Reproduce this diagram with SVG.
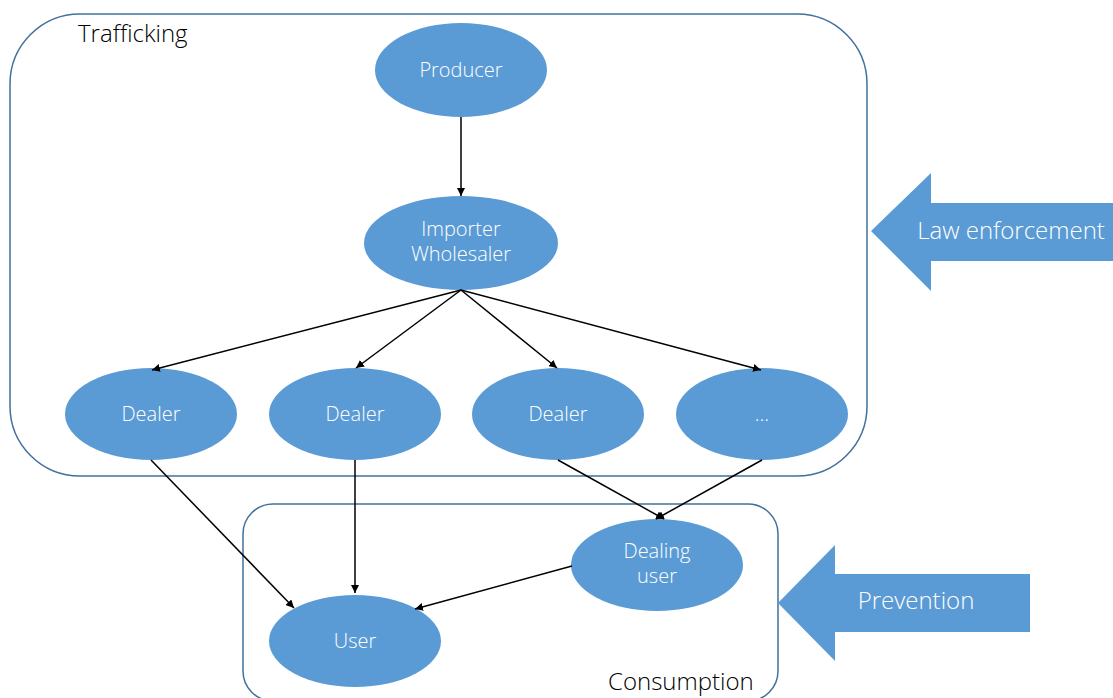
<svg xmlns="http://www.w3.org/2000/svg" width="1113" height="698" viewBox="0 0 1113 698">
<style>
.box{fill:none;stroke:#41719c;stroke-width:1.5}
.node{fill:#5b9bd5}
.nt{fill:#fff;font-family:"Open Sans",Lato,sans-serif;font-size:20px;font-weight:300;text-anchor:middle}
.lbl{fill:#000;font-family:"Open Sans",Lato,sans-serif;font-size:24px;font-weight:300}
.big{fill:#fff;font-family:"Open Sans",Lato,sans-serif;font-size:24px;font-weight:300;text-anchor:middle}
.edge{stroke:#000;stroke-width:1.5;fill:none;marker-end:url(#ah)}
</style>
<defs>
<marker id="ah" viewBox="0 0 10 10" refX="10" refY="5" markerWidth="8" markerHeight="8" orient="auto" markerUnits="userSpaceOnUse">
<path d="M0,0 L10,5 L0,10 z" fill="#000"/>
</marker>
</defs>
<g id="trafficking">
<rect class="box" x="10" y="14" width="857" height="462" rx="70" ry="70"/>
<text class="lbl" x="78" y="42">Trafficking</text>
</g>
<g id="consumption">
<rect class="box" x="243" y="504" width="535" height="197" rx="30" ry="30"/>
<text class="lbl" x="608" y="690">Consumption</text>
</g>
<g id="law-enforcement">
<polygon class="node" points="871,231 931,173 931,203 1113,203 1113,261 931,261 931,291"/>
<text class="big" x="1011" y="239">Law enforcement</text>
</g>
<g id="prevention">
<polygon class="node" points="778,603 835,545 835,574 1030,574 1030,632 835,632 835,661"/>
<text class="big" x="916" y="609">Prevention</text>
</g>
<g id="producer"><ellipse class="node" cx="461" cy="70" rx="86" ry="47"/><text class="nt" x="461" y="77">Producer</text></g>
<g id="importer"><ellipse class="node" cx="461" cy="243" rx="97" ry="47"/><text class="nt" x="461" y="236">Importer</text><text class="nt" x="461" y="261">Wholesaler</text></g>
<g id="dealer1"><ellipse class="node" cx="151" cy="414" rx="86" ry="46"/><text class="nt" x="151" y="421">Dealer</text></g>
<g id="dealer2"><ellipse class="node" cx="355" cy="414" rx="86" ry="46"/><text class="nt" x="355" y="421">Dealer</text></g>
<g id="dealer3"><ellipse class="node" cx="558" cy="414" rx="86" ry="46"/><text class="nt" x="558" y="421">Dealer</text></g>
<g id="dealer4"><ellipse class="node" cx="762" cy="414" rx="86" ry="46"/><text class="nt" x="762" y="421">…</text></g>
<g id="dealing-user"><ellipse class="node" cx="657" cy="565" rx="86" ry="46"/><text class="nt" x="657" y="558">Dealing</text><text class="nt" x="657" y="583">user</text></g>
<g id="user"><ellipse class="node" cx="355" cy="641" rx="86" ry="46"/><text class="nt" x="355" y="648">User</text></g>
<g id="connectors">
<line class="edge" x1="461" y1="117" x2="461" y2="196"/>
<line class="edge" x1="461" y1="290" x2="152" y2="370"/>
<line class="edge" x1="461" y1="290" x2="356" y2="368"/>
<line class="edge" x1="461" y1="290" x2="557" y2="368"/>
<line class="edge" x1="461" y1="290" x2="761" y2="370"/>
<line class="edge" x1="151" y1="460" x2="294" y2="608"/>
<line class="edge" x1="355" y1="460" x2="355" y2="593"/>
<line class="edge" x1="558" y1="460" x2="664" y2="519"/>
<line class="edge" x1="762" y1="460" x2="656" y2="519"/>
<line class="edge" x1="572" y1="566" x2="415" y2="609"/>
</g>
</svg>
